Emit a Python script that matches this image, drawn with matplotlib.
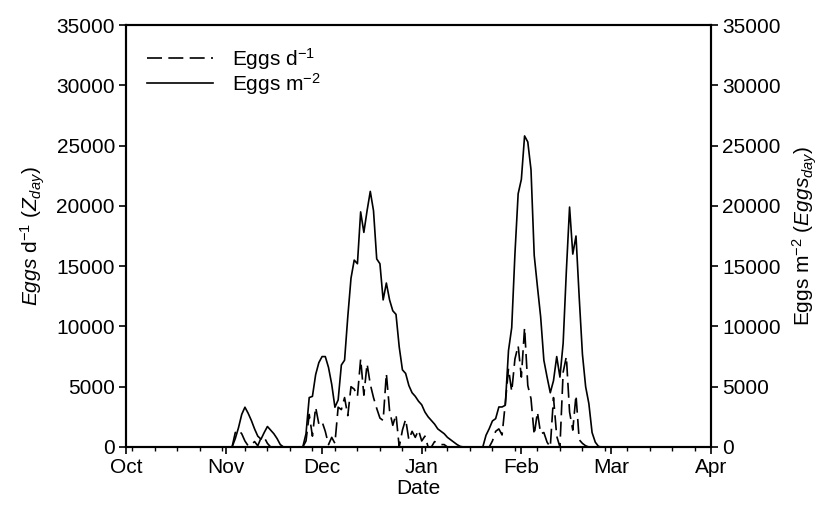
import matplotlib
matplotlib.use('Agg')
import matplotlib.pyplot as plt
import numpy as np

plt.rcParams['font.family'] = ['Liberation Sans', 'DejaVu Sans']
plt.rcParams['mathtext.fontset'] = 'custom'
plt.rcParams['mathtext.rm'] = 'Liberation Sans'
plt.rcParams['mathtext.it'] = 'Liberation Sans:italic'
plt.rcParams['mathtext.bf'] = 'Liberation Sans:bold'

# ---- data (day index: 0 = 1 Oct, 182 = 1 Apr) ----
n_days = 183
month_labels = ['Oct', 'Nov', 'Dec', 'Jan', 'Feb', 'Mar', 'Apr']
month_days = [0, 31, 61, 92, 123, 151, 182]

# Eggs m^-2 (solid) : segments (start day, daily values)
m2_nov_start = 33
m2_nov = [0, 700, 1600, 2700, 3300, 2800, 2200, 1500, 900, 650, 1200, 1700,
          1400, 1100, 700, 200, 0]
m2_dec_start = 55
m2_dec = [0, 1100, 4100, 4200, 6000, 7000, 7500, 7500, 6600, 5200, 3300, 3900,
          6800, 7200, 10800, 14000, 15500, 15200, 19500, 17800, 19600, 21200,
          19600, 15600, 15200, 12200, 13600, 12200, 11300, 11000, 8300, 6400,
          6100, 5100, 4500, 4200, 3800, 3500, 2900, 2500, 2200, 1900, 1500,
          1300, 1100, 800, 600, 400, 200, 50, 0]
m2_feb_start = 111
m2_feb = [0, 970, 1520, 2160, 2350, 3320, 3320, 3460, 8000, 9900, 16000,
          21000, 22200, 25800, 25300, 23000, 15900, 13300, 10800, 7200, 5800,
          4500, 5500, 7500, 5800, 8600, 14600, 19900, 16000, 17500, 12400,
          7700, 5000, 3600, 1200, 400, 50, 0]

# Eggs d^-1 (dashed)
d1_nov_start = 33
d1_nov = [0, 1200, 1400, 1100, 500, 100, 200, 450, 100, 750, 800, 300, 0]
d1_dec_start = 55
d1_dec = [0, 500, 2700, 900, 3300, 1900, 2100, 1300, 200, 800, 300, 3300,
          3100, 4100, 2600, 5000, 4800, 4200, 7300, 4300, 6900, 5200, 4100,
          3200, 2400, 2200, 6100, 3000, 1800, 2700, 0, 1400, 2300, 600, 1300,
          800, 1400, 500, 900, 0, 0, 450, 300, 200, 200, 0]
d1_feb_start = 113
d1_feb = [0, 500, 1300, 1500, 1000, 3600, 6500, 4600, 7300, 8400, 5800, 9900,
          5100, 4000, 1000, 2900, 1100, 1200, 400, 0, 4100, 900, 0, 6200, 7500,
          2900, 1400, 4300, 600, 300, 100, 0]


def build(segments):
    arr = np.zeros(n_days)
    for start, vals in segments:
        arr[start:start + len(vals)] = vals
    return arr


days = np.arange(n_days)
eggs_m2 = build([(m2_nov_start, m2_nov), (m2_dec_start, m2_dec), (m2_feb_start, m2_feb)])
eggs_d1 = build([(d1_nov_start, d1_nov), (d1_dec_start, d1_dec), (d1_feb_start, d1_feb)])

# ---- figure ----
fig = plt.figure(figsize=(8.24, 5.09), dpi=100)
ax = fig.add_axes([126 / 824, 1 - 447 / 509, (711 - 126) / 824, (447 - 25) / 509])

ax.plot(days, eggs_d1, color='black', lw=1.2, dashes=(9, 3.8), label='Eggs d$^{-1}$')
ax.plot(days, eggs_m2, color='black', lw=1.2, label='Eggs m$^{-2}$')

ax.set_xlim(0, 182)
ax.set_ylim(0, 35000)
ax.set_xticks(month_days)
ax.set_xticklabels(month_labels)
ax.set_xticks(np.arange(2, 182, 7), minor=True)
yt = np.arange(0, 35001, 5000)
ax.set_yticks(yt)
ax.set_yticklabels([str(v) for v in yt])

fs = 15
for s in ax.spines.values():
    s.set_linewidth(1.5)
ax.tick_params(axis='both', which='major', direction='out', length=5, width=1.2,
               labelsize=fs, pad=3)
ax.tick_params(axis='x', which='minor', direction='out', length=3, width=1.0)

ax.set_xlabel('Date', fontsize=fs, labelpad=1)
ax.set_ylabel(r'$\mathit{Eggs}$ d$^{-1}$ ($\mathit{Z}_{\mathit{day}}$)', fontsize=fs, labelpad=7)

ax2 = ax.twinx()
ax2.set_ylim(0, 35000)
ax2.set_yticks(yt)
ax2.set_yticklabels([str(v) for v in yt])
ax2.tick_params(axis='y', which='major', direction='out', length=5, width=1.2,
                labelsize=fs, pad=3)
for s in ax2.spines.values():
    s.set_linewidth(1.5)
ax2.set_ylabel(r'Eggs m$^{-2}$ ($\mathit{Eggs}_{\mathit{day}}$)', fontsize=fs, labelpad=7)

leg = ax.legend(loc='upper left', frameon=False, fontsize=fs, handlelength=3.2,
                handletextpad=0.9, labelspacing=-0.05, borderaxespad=0.6,
                bbox_to_anchor=(0.0, 1.0))

fig.savefig('out.png', dpi=100)
